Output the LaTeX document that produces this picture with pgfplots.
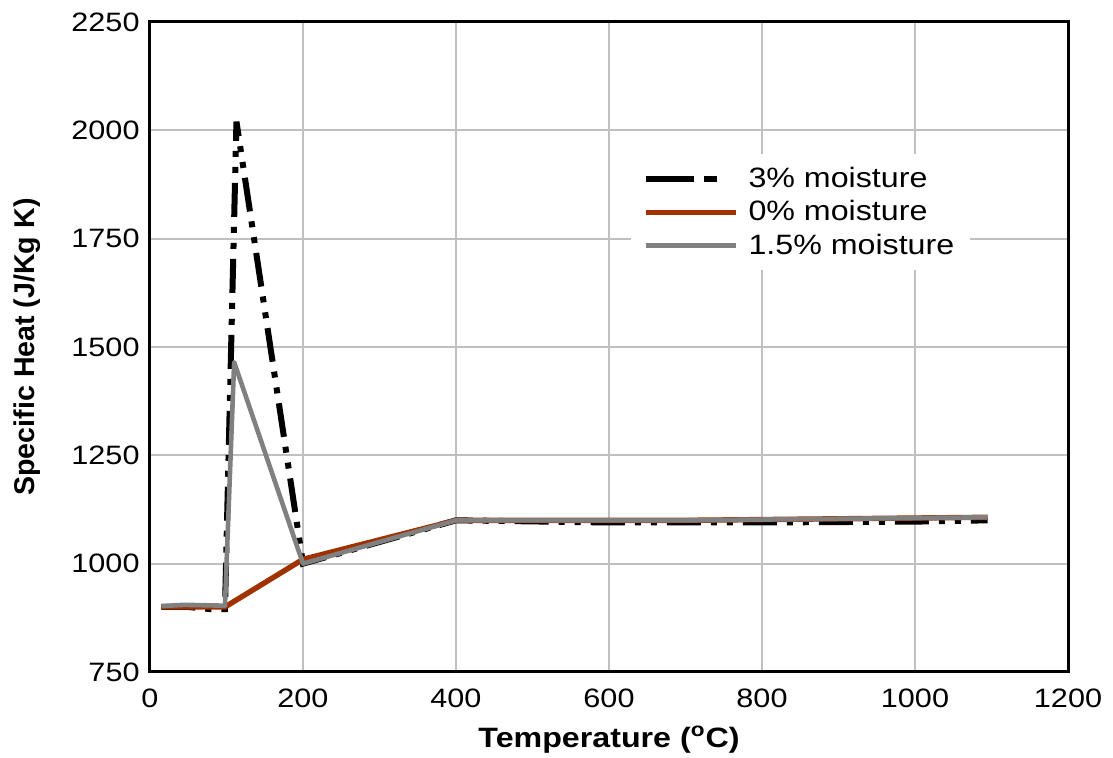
\documentclass[border=0pt]{standalone}
\usepackage{pgfplots}
\pgfplotsset{compat=1.18}
\usepackage{fontspec}
\setmainfont{Liberation Sans}[FakeStretch=1.15]
\newfontfamily\plainsans{Liberation Sans}
\definecolor{brownred}{RGB}{160,50,0}
\definecolor{midgray}{RGB}{128,128,128}
\definecolor{gridgray}{RGB}{192,192,192}
\begin{document}
\begin{tikzpicture}
\begin{axis}[
  name=ax,
  at={(0,0)}, anchor=south west,
  scale only axis,
  width=459pt, height=325pt,
  xmin=0, xmax=1200, ymin=750, ymax=2250,
  xtick={0,200,...,1200},
  ytick={750,1000,...,2250},
  /pgf/number format/assume math mode=true,
  /pgf/number format/set thousands separator={},
  tick label style={font=\fontsize{13.3}{15}\selectfont},
  xticklabel style={yshift=-5pt},
  yticklabel style={xshift=-1.7pt},
  xtick style={draw=none}, ytick style={draw=none},
  grid=major,
  major grid style={gridgray, line width=1pt},
  axis line style={black, line width=1.5pt},
  xlabel={\textbf{Temperature (\textsuperscript{o}C)}},
  ylabel={\plainsans\bfseries Specific Heat (J/Kg K)},
  xlabel style={font=\fontsize{14}{16}\selectfont, at={(axis description cs:0.5,-0.1154)}, anchor=base},
  ylabel style={font=\fontsize{14.3}{16}\selectfont, at={(axis description cs:-0.134,0.5)}, anchor=center},
  legend style={at={(rel axis cs:0.523,0.797)}, anchor=north west, draw=none, fill=white,
    font=\fontsize{14}{16}\selectfont, row sep=2pt, column sep=3pt, inner xsep=6pt, inner ysep=5pt,
    nodes={inner ysep=1.5pt}},
  legend cell align=left,
  legend image code/.code={\draw[#1] (0pt,0pt) -- (45pt,0pt);},
]
\addplot[black, line width=3pt, dash pattern=on 17pt off 5pt on 3pt off 5pt on 3pt off 5pt,
  legend image post style={dash pattern=on 24pt off 5pt on 6.5pt off 20pt}] coordinates {
(15,900) (50,900) (80,895) (98,895) (113,2020) (200,1000) (400,1100) (600,1095) (800,1095) (1000,1097) (1095,1100)};
\addlegendentry{3\% moisture}
\addplot[brownred, line width=2.7pt, line join=round] coordinates {
(15,900) (50,900) (98,900) (200,1010) (400,1100) (700,1100) (1095,1107)};
\addlegendentry{0\% moisture}
\addplot[midgray, line width=2.3pt, line join=round] coordinates {
(15,902) (45,905) (98,903) (110,1465) (200,1000) (400,1100) (700,1100) (1095,1107)};
\addlegendentry{1.5\% moisture}
\end{axis}
\pgfresetboundingbox
\path (-75pt,-43pt) rectangle (481.5pt,336pt);
\end{tikzpicture}
\end{document}
